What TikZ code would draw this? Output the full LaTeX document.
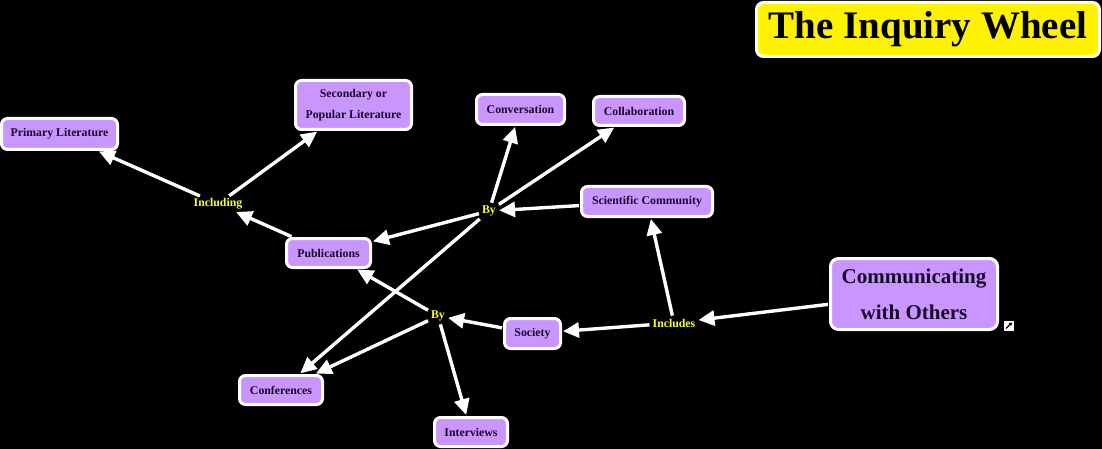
\documentclass[tikz,border=0pt]{standalone}
\usepackage{fontspec}
\setmainfont{Liberation Serif}
\usetikzlibrary{arrows.meta}
\definecolor{boxfill}{RGB}{201,150,255}
\definecolor{boxtext}{RGB}{25,5,40}
\definecolor{linkyellow}{RGB}{255,255,40}
\tikzset{
  concept/.style={draw=white, line width=3pt, fill=boxfill, rounded corners=6pt,
    text=boxtext, font=\bfseries\fontsize{11.8}{21}\selectfont, align=center,
    inner sep=1pt},
  linkph/.style={text=linkyellow, font=\bfseries\fontsize{11.8}{13}\selectfont, inner sep=2pt},
  conn/.style={draw=white, line width=3.4pt, -{Triangle[length=16pt,width=15pt]}, shorten >=1pt, shorten <=1pt}
}
\begin{document}
\begin{tikzpicture}[x=1pt,y=-1pt]
\useasboundingbox (0,0) rectangle (1102,449);
\fill[black] (0,0) rectangle (1102,449);

% title
\node[draw=white, line width=3pt, fill=yellow, rounded corners=7pt, text=black,
  font=\bfseries\fontsize{39}{40}\selectfont, minimum width=343pt, minimum height=54pt, inner sep=0pt]
  (title) at (928,29.5) {The Inquiry Wheel};

% concepts
\node[concept, minimum width=116pt, minimum height=31pt] (prim) at (59.5,134) {Primary Literature};
\node[concept, minimum width=116pt, minimum height=49pt] (sec) at (353.5,105) {Secondary or\\Popular Literature};
\node[concept, minimum width=88pt, minimum height=30pt] (conv) at (520.5,109.5) {Conversation};
\node[concept, minimum width=91pt, minimum height=29pt] (coll) at (639,111) {Collaboration};
\node[concept, minimum width=131pt, minimum height=30pt] (sci) at (647,201.5) {Scientific Community};
\node[concept, minimum width=84pt, minimum height=29pt] (pub) at (328.5,253) {Publications};
\node[concept, minimum width=56pt, minimum height=30pt] (soc) at (532.5,333.5) {Society};
\node[concept, minimum width=83pt, minimum height=29pt] (conf) at (281,390) {Conferences};
\node[concept, minimum width=73pt, minimum height=29pt] (intv) at (471,432) {Interviews};
\node[concept, minimum width=167pt, minimum height=71pt, rounded corners=8pt,
  font=\bfseries\fontsize{21}{36}\selectfont] (comm) at (914,294) {Communicating\\with Others};

% linking phrases
\node[linkph] (incl) at (218,204) {Including};
\node[linkph] (by1) at (489,211) {By};
\node[linkph] (by2) at (438,316) {By};
\node[linkph] (incs) at (674,323) {Includes};

% icon
\node[draw=black, line width=0.6pt, fill=white, minimum size=11pt, inner sep=0pt] (icon) at (1009,325.5) {};
\draw[black, line width=1.2pt, -{Triangle[length=3pt,width=3.5pt]}] ([shift={(-3pt,-3pt)}]icon.center) -- ([shift={(3pt,3pt)}]icon.center);

% connectors
\draw[conn] (comm) -- (incs);
\draw[conn] (incs) -- (sci);
\draw[conn] (incs) -- (soc);
\draw[conn] (sci) -- (by1);
\draw[conn] (by1) -- (conv);
\draw[conn] (by1) -- (coll);
\draw[conn] (by1) -- (pub);
\draw[conn] (by1) -- (conf);
\draw[conn] (soc) -- (by2);
\draw[conn] (by2) -- (pub);
\draw[conn] (by2) -- (conf);
\draw[conn] (by2) -- (intv);
\draw[conn] (pub) -- (incl);
\draw[conn] (incl) -- (prim);
\draw[conn] (incl) -- (sec);
\end{tikzpicture}
\end{document}
